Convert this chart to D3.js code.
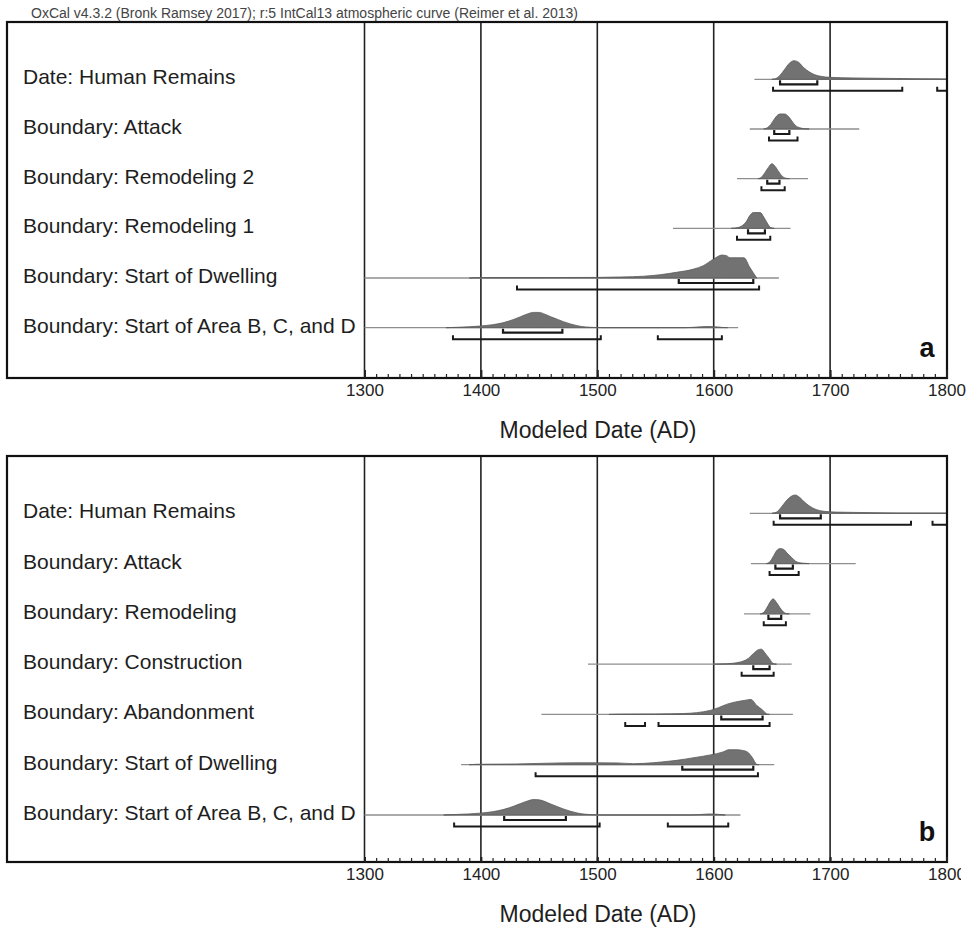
<!DOCTYPE html>
<html>
<head>
<meta charset="utf-8">
<style>
  body { margin: 0; background: #fff; }
  svg text { font-family: "Liberation Sans", Arial, sans-serif; }
</style>
</head>
<body>
<svg width="973" height="931"></svg>
<script src="https://cdn.jsdelivr.net/npm/d3@7/dist/d3.min.js"></script>
<script>
    var header = "OxCal v4.3.2 (Bronk Ramsey 2017); r:5 IntCal13 atmospheric curve (Reimer et al. 2013)";
    var axisTitle = "Modeled Date (AD)";
    var tickYears = [1300, 1400, 1500, 1600, 1700, 1800];

    // panel a
    var labelsA = ["Date: Human Remains", "Boundary: Attack", "Boundary: Remodeling 2",
        "Boundary: Remodeling 1", "Boundary: Start of Dwelling", "Boundary: Start of Area B, C, and D"];
    var spanA = [[1635, 1810], [1631, 1725], [1620, 1681], [1565, 1666], [1250, 1656], [1250, 1621]];
    var densityA = [
        [[1650, 0], [1653, 0.04], [1657, 0.27], [1661, 0.67], [1665, 1.07], [1669, 1.24], [1673, 1.13], [1677, 0.8],
            [1682, 0.5], [1687, 0.3], [1692, 0.2], [1700, 0.13], [1720, 0.09], [1740, 0.07], [1763, 0.05], [1780, 0.03], [1810, 0.015]],
        [[1643, 0], [1646, 0.08], [1649, 0.3], [1652, 0.65], [1655, 0.93], [1657, 1], [1661, 1], [1664, 0.85],
            [1667, 0.55], [1670, 0.25], [1674, 0.08], [1678, 0.02], [1682, 0]],
        [[1638, 0], [1641, 0.1], [1644, 0.4], [1647, 0.75], [1650, 1], [1653, 0.8], [1656, 0.45], [1659, 0.15], [1662, 0.03], [1665, 0]],
        [[1615, 0], [1620, 0.04], [1624, 0.15], [1628, 0.45], [1631, 0.85], [1634, 1.05], [1640, 1.05], [1643, 0.75],
            [1646, 0.35], [1649, 0.05], [1652, 0]],
        [[1390, 0], [1400, 0.03], [1450, 0.03], [1500, 0.04], [1520, 0.07], [1540, 0.12], [1554, 0.22], [1568, 0.38],
            [1583, 0.6], [1591, 0.82], [1600, 1.27], [1607, 1.53], [1611, 1.49], [1614, 1.35], [1626, 1.35], [1631, 0.71], [1637, 0]],
        [[1370, 0], [1380, 0.03], [1399, 0.11], [1410, 0.2], [1419, 0.33], [1428, 0.55], [1434, 0.73], [1440, 0.92],
            [1445, 1.02], [1450, 1.02], [1455, 0.9], [1460, 0.73], [1466, 0.55], [1471, 0.4], [1477, 0.25], [1483, 0.13],
            [1490, 0.05], [1497, 0.02], [1505, 0], [1575, 0], [1585, 0.04], [1594, 0.08], [1600, 0.07], [1607, 0.02], [1612, 0]]
    ];
    var hpd68A = [[[1657, 1689]], [[1652, 1665]], [[1646, 1656.5]], [[1629.5, 1644]], [[1570, 1634]], [[1419, 1470]]];
    var hpd95A = [[[1651, 1762], [1792, 1810]], [[1647.5, 1672]], [[1641, 1661]], [[1620, 1648.6]], [[1431, 1639]],
        [[1376, 1503], [1552, 1607]]];

    // panel b
    var labelsB = ["Date: Human Remains", "Boundary: Attack", "Boundary: Remodeling", "Boundary: Construction",
        "Boundary: Abandonment", "Boundary: Start of Dwelling", "Boundary: Start of Area B, C, and D"];
    var spanB = [[1631, 1810], [1632, 1722], [1626, 1683], [1492, 1667], [1452, 1668], [1383, 1652], [1250, 1623]];
    var densityB = [
        [[1650, 0], [1654, 0.08], [1658, 0.4], [1662, 0.8], [1666, 1.1], [1670, 1.22], [1674, 1.05], [1678, 0.75],
            [1682, 0.5], [1688, 0.25], [1695, 0.13], [1705, 0.08], [1720, 0.06], [1737, 0.04], [1760, 0.02], [1810, 0.01]],
        [[1645, 0], [1648, 0.1], [1651, 0.45], [1654, 0.85], [1657, 1], [1660, 0.95], [1663, 0.7], [1667, 0.4],
            [1670, 0.18], [1673, 0.07], [1678, 0.02], [1682, 0]],
        [[1640, 0], [1643, 0.1], [1646, 0.45], [1649, 0.85], [1651, 1], [1654, 0.75], [1657, 0.4], [1660, 0.12], [1662, 0.03], [1665, 0]],
        [[1600, 0], [1610, 0.02], [1614, 0.04], [1620, 0.1], [1626, 0.22], [1630, 0.4], [1634, 0.7], [1638, 0.95],
            [1641, 1], [1644, 0.75], [1648, 0.35], [1651, 0.05], [1654, 0]],
        [[1510, 0], [1520, 0.02], [1550, 0.03], [1574, 0.06], [1597, 0.27], [1604, 0.45], [1611, 0.67], [1618, 0.82],
            [1626, 0.93], [1632, 1], [1637, 0.6], [1642, 0.3], [1646, 0.02], [1648, 0]],
        [[1390, 0], [1396, 0.03], [1430, 0.05], [1468, 0.12], [1490, 0.13], [1517, 0.12], [1531, 0.07], [1540, 0.09],
            [1555, 0.18], [1568, 0.29], [1583, 0.47], [1597, 0.65], [1608, 0.85], [1613, 1], [1620, 1], [1625, 0.95],
            [1629, 0.85], [1633, 0.5], [1637, 0.03], [1639, 0]],
        [[1368, 0], [1380, 0.04], [1399, 0.12], [1410, 0.22], [1419, 0.36], [1428, 0.58], [1434, 0.76], [1440, 0.93],
            [1445, 1.03], [1450, 1.01], [1455, 0.9], [1460, 0.73], [1466, 0.55], [1471, 0.4], [1477, 0.25], [1483, 0.13],
            [1490, 0.05], [1497, 0.02], [1505, 0], [1580, 0], [1590, 0.04], [1597, 0.07], [1603, 0.05], [1610, 0]]
    ];
    var hpd68B = [[[1657, 1692]], [[1653, 1668]], [[1647, 1658]], [[1634, 1648]], [[1606.5, 1642]], [[1573, 1634]], [[1420, 1473]]];
    var hpd95B = [[[1651.5, 1769.5], [1788, 1810]], [[1648, 1673]], [[1643, 1662]], [[1624, 1651.5]],
        [[1524, 1541], [1552.6, 1648]], [[1447, 1638]], [[1377, 1502], [1560.6, 1612.5]]];

    var svg = d3.select("svg");
    var frameLeft = 7,
        frameRight = 947;

    var x = d3.scaleLinear().domain([1300, 1800]).range([364.5, 946.5]);
    var h = d3.scaleLinear().domain([0, 1]).range([0, 15]);

    svg.append("rect").attr("width", 973).attr("height", 931).attr("fill", "#fff");

    svg.append("text")
        .attr("x", 31)
        .attr("y", 18)
        .attr("font-size", 14)
        .attr("fill", "#444")
        .text(header);

    var panels = [
        { tag: "a", top: 22, bottom: 378, rowTop: 79.3, rowBottom: 327.7, labels: labelsA, span: spanA, density: densityA, r68: hpd68A, r95: hpd95A, clipLabels: false },
        { tag: "b", top: 456, bottom: 862, rowTop: 513.3, rowBottom: 815, labels: labelsB, span: spanB, density: densityB, r68: hpd68B, r95: hpd95B, clipLabels: true }
    ];

    panels.forEach(function(p, pi) {
        var g = svg.append("g");
        var y = d3.scalePoint().domain(d3.range(p.labels.length)).range([p.rowTop, p.rowBottom]);

        var clipId = "clip" + pi;
        svg.append("clipPath").attr("id", clipId)
            .append("rect")
            .attr("x", x(1300)).attr("y", p.top)
            .attr("width", x(1800) - x(1300)).attr("height", p.bottom - p.top);

        // gridlines
        g.selectAll(".grid").data(tickYears.slice(0, -1)).enter().append("line")
            .attr("x1", function(d) { return x(d); })
            .attr("x2", function(d) { return x(d); })
            .attr("y1", p.top).attr("y2", p.bottom)
            .attr("stroke", "#222").attr("stroke-width", 1.6);

        var plot = g.append("g").attr("clip-path", "url(#" + clipId + ")");

        // row lines
        plot.selectAll(".span").data(p.span).enter().append("line")
            .attr("x1", function(d) { return x(d[0]); })
            .attr("x2", function(d) { return x(d[1]); })
            .attr("y1", function(d, i) { return y(i); })
            .attr("y2", function(d, i) { return y(i); })
            .attr("stroke", "#8e8e8e").attr("stroke-width", 1.3);

        // distributions
        p.density.forEach(function(dist, i) {
            var area = d3.area()
                .x(function(d) { return x(d[0]); })
                .y0(y(i))
                .y1(function(d) { return y(i) - h(d[1]); })
                .curve(d3.curveMonotoneX);
            plot.append("path")
                .attr("d", area(dist))
                .attr("fill", "#727272")
                .attr("stroke", "#5a5a5a")
                .attr("stroke-width", 0.8);
        });

        // hpd brackets
        function brackets(ranges, off, w) {
            ranges.forEach(function(rs, i) {
                rs.forEach(function(r) {
                    var yy = y(i) + off;
                    plot.append("path")
                        .attr("d", "M" + x(r[0]) + "," + (yy - 4) + "V" + yy + "H" + x(r[1]) + "V" + (yy - 4))
                        .attr("fill", "none")
                        .attr("stroke", "#1a1a1a")
                        .attr("stroke-width", w);
                });
            });
        }
        brackets(p.r68, 5, 2.2);
        brackets(p.r95, 11.5, 2);

        // labels
        g.selectAll(".lab").data(p.labels).enter().append("text")
            .attr("x", 23)
            .attr("y", function(d, i) { return y(i) + 5; })
            .attr("font-size", 21)
            .attr("fill", "#1e1e1e")
            .text(function(d) { return d; });

        // frame
        g.append("rect")
            .attr("x", frameLeft).attr("y", p.top)
            .attr("width", frameRight - frameLeft).attr("height", p.bottom - p.top)
            .attr("fill", "none").attr("stroke", "#111").attr("stroke-width", 2.2);

        // ticks
        var minor = d3.axisBottom(x).tickValues(d3.range(1300, 1801, 10)).tickSize(-4).tickFormat("");
        var major = d3.axisBottom(x).tickValues(tickYears).tickSize(-8).tickPadding(6).tickFormat(d3.format("d"));

        var ax = g.append("g").attr("transform", "translate(0," + p.bottom + ")");
        ax.append("g").call(minor).call(function(s) { s.select(".domain").remove(); })
            .selectAll("line").attr("stroke", "#222").attr("stroke-width", 1.2);
        var mj = ax.append("g").call(major).call(function(s) { s.select(".domain").remove(); });
        mj.selectAll("line").attr("stroke", "#222").attr("stroke-width", 2);
        mj.selectAll("text")
            .attr("font-size", 17)
            .attr("font-family", "Liberation Sans, Arial, sans-serif")
            .attr("fill", "#222");
        if (p.clipLabels) {
            var lc = "lclip" + pi;
            svg.append("clipPath").attr("id", lc)
                .append("rect").attr("x", 0).attr("y", -5).attr("width", 961).attr("height", 40);
            mj.attr("clip-path", "url(#" + lc + ")");
        }

        // axis title
        g.append("text")
            .attr("x", 598)
            .attr("y", p.bottom + 60)
            .attr("text-anchor", "middle")
            .attr("font-size", 23)
            .attr("fill", "#1e1e1e")
            .text(axisTitle);

        // panel tag
        g.append("text")
            .attr("x", 927)
            .attr("y", p.bottom - 21)
            .attr("text-anchor", "middle")
            .attr("font-size", 27)
            .attr("font-weight", "bold")
            .attr("fill", "#111")
            .text(p.tag);
    });
</script>
</body>
</html>
